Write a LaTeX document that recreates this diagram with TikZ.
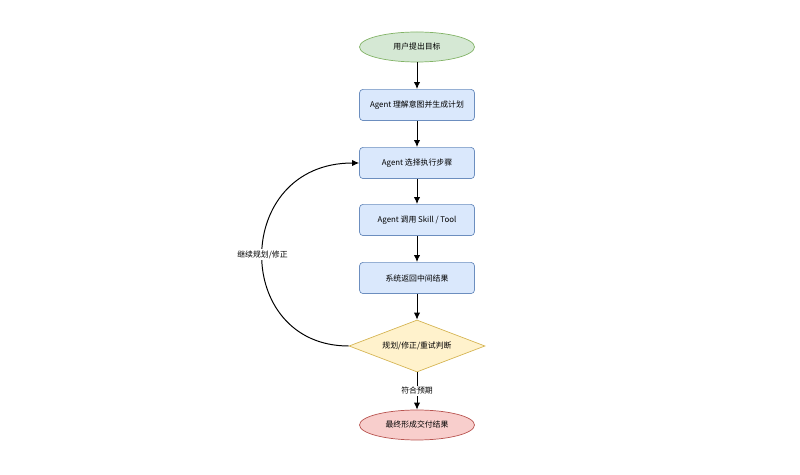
\documentclass[tikz,border=0pt]{standalone}
\usepackage{fontspec}
\setmainfont{Noto Sans CJK SC}
\usetikzlibrary{shapes.geometric,arrows.meta}
\definecolor{startfill}{HTML}{D5E8D4}
\definecolor{startline}{HTML}{82B366}
\definecolor{stepfill}{HTML}{DAE8FC}
\definecolor{stepline}{HTML}{6C8EBF}
\definecolor{checkfill}{HTML}{FFF2CC}
\definecolor{checkline}{HTML}{D6B656}
\definecolor{endfill}{HTML}{F8CECC}
\definecolor{endline}{HTML}{B85450}
\tikzset{
  every node/.style={font=\fontsize{5.6}{7}\selectfont},
  startnode/.style={ellipse, draw=startline, fill=startfill, line width=0.5pt, minimum width=2.875cm, minimum height=0.75cm, inner sep=0pt},
  stepbox/.style={rectangle, rounded corners=2.5pt, draw=stepline, fill=stepfill, line width=0.5pt, minimum width=2.875cm, minimum height=0.78cm},
  checknode/.style={diamond, aspect=2.6, draw=checkline, fill=checkfill, line width=0.5pt, minimum width=3.4cm, minimum height=1.3cm, inner sep=0pt},
  endnode/.style={ellipse, draw=endline, fill=endfill, line width=0.5pt, minimum width=2.875cm, minimum height=0.75cm, inner sep=0pt},
  flow/.style={-{Latex[length=5pt,width=4.5pt]}, line width=0.7pt},
}
\begin{document}
\begin{tikzpicture}[node distance=1.45cm]
        \useasboundingbox (0,0) rectangle (20,-11.875);
        % Define os nós
        \node[startnode] (goal) at (10.425,-1.175) {用户提出目标};
        \node[stepbox, below of=goal] (plan) {Agent 理解意图并生成计划};
        \node[stepbox, below of=plan] (pick) {Agent 选择执行步骤};
        \node[stepbox, below of=pick, yshift=0.025cm] (call) {Agent 调用 Skill / Tool};
        \node[stepbox, below of=call] (result) {系统返回中间结果};
        \node[checknode, below of=result, yshift=-0.25cm] (judge) {规划/修正/重试判断};
        \node[endnode, below of=judge, yshift=-0.525cm] (deliver) {最终形成交付结果};
        % Conecta os nós
        \draw[flow] (goal) -- (plan);
        \draw[flow] (plan) -- (pick);
        \draw[flow] (pick) -- (call);
        \draw[flow] (call) -- (result);
        \draw[flow] (result) -- (judge);
        \draw[flow] (judge) -- node[fill=white, inner sep=1pt] {符合预期} (deliver);
        % Volta para a escolha do passo
        \draw[flow] (judge.west) .. controls (5.8,-8.65) and (5.8,-4.075) .. node[pos=0.5, fill=white, inner sep=1pt] {继续规划/修正} (pick.west);
    \end{tikzpicture}
\end{document}
